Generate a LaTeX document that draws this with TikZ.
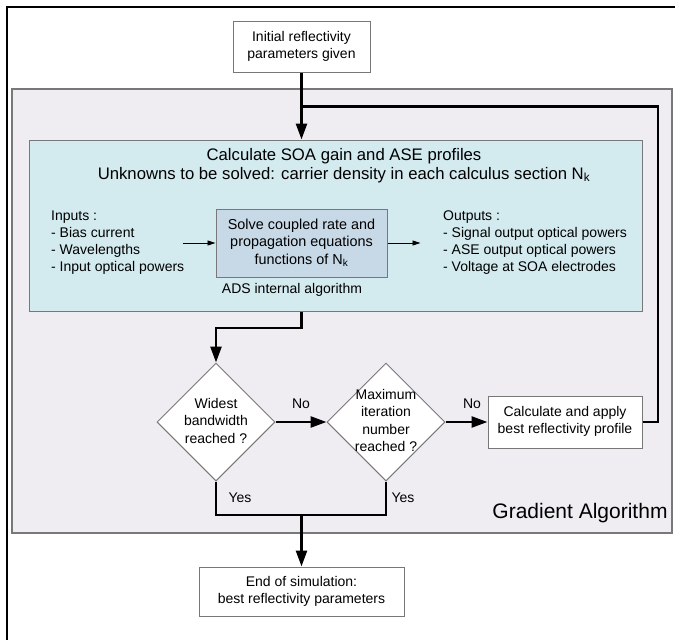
\documentclass[tikz,border=0pt]{standalone}
\usepackage{fontspec}
\setmainfont{Liberation Sans}
\usepackage{tikz}
\usetikzlibrary{arrows.meta,shapes,positioning}
\usepackage{xcolor}
\definecolor{dfgray}{RGB}{120,120,120}
\definecolor{dflavender}{RGB}{239,237,242}
\definecolor{dfcyan}{RGB}{211,234,239}
\definecolor{dfsteel}{RGB}{199,216,230}
\tikzstyle{process} = [rectangle, text centered, draw=dfgray, fill=white, line width=1pt, inner sep=0pt, font=\fontsize{14}{17}\selectfont]
\tikzstyle{decision} = [diamond, aspect=1, text centered, draw=dfgray, fill=white, line width=1pt, minimum width=118pt, minimum height=118pt, inner sep=-8pt, font=\fontsize{14}{17.5}\selectfont]
\tikzstyle{plain} = [inner sep=0pt, font=\fontsize{14}{17}\selectfont]
\tikzstyle{arrow} = [line width=2.6pt, ->, >={Triangle[length=16pt,width=11pt]}]
\tikzstyle{flow} = [line width=2.6pt]
\tikzstyle{thinarrow} = [line width=0.8pt, ->, >={Triangle[length=8pt,width=5pt]}]

\begin{document}
\begin{tikzpicture}[x=1pt, y=-1pt]
\useasboundingbox (0,0) rectangle (675,640);
% Frames
\draw[line width=2.5pt] (7,640) -- (7,7) -- (675,7);
\draw[draw=dfgray, fill=dflavender, line width=1.5pt] (12,89) rectangle (672,533);
\node (gradlabel) [plain, font=\fontsize{21}{25}\selectfont] at (580,513) {Gradient Algorithm};

% Steps
\node (init) [process, minimum width=137pt, minimum height=51pt] at (301.5,46.5) {
\begin{tabular}{c}
Initial reflectivity\\
parameters given
\end{tabular}
};

\node (soa) [process, fill=dfcyan, minimum width=613pt, minimum height=171pt] at (335.5,225.5) {};
\node (title) [plain, font=\fontsize{16.7}{19}\selectfont] at (344,156) {Calculate SOA gain and ASE profiles};
\node (unknowns) [plain, font=\fontsize{16.7}{19}\selectfont] at (344,175) {Unknowns to be solved: carrier density in each calculus section N\textsubscript{k}};

\node (inputs) [plain, anchor=west] at (51,242.5) {
\begin{tabular}{@{}l@{}}
Inputs :\\
- Bias current\\
- Wavelengths\\
- Input optical powers
\end{tabular}
};

\node (solve) [process, fill=dfsteel, minimum width=171pt, minimum height=68pt, font=\fontsize{14.4}{17.5}\selectfont] at (301.5,243) {
\begin{tabular}{c}
Solve coupled rate and\\
propagation equations\\
functions of N\textsubscript{k}
\end{tabular}
};

\node (outputs) [plain, anchor=west] at (443,242.5) {
\begin{tabular}{@{}l@{}}
Outputs :\\
- Signal output optical powers\\
- ASE output optical powers\\
- Voltage at SOA electrodes
\end{tabular}
};

\node (adslabel) [plain] at (292,290) {ADS internal algorithm};

\node (widest) [decision] at (216,422) {
\begin{tabular}{@{}c@{}}
Widest\\
bandwidth\\
reached ?
\end{tabular}
};

\node (maxiter) [decision] at (386,422) {
\begin{tabular}{@{}c@{}}
Maximum\\
iteration\\
number\\
reached ?
\end{tabular}
};

\node (apply) [process, minimum width=154pt, minimum height=52pt] at (565,422) {
\begin{tabular}{c}
Calculate and apply\\
best reflectivity profile
\end{tabular}
};

\node (finish) [process, minimum width=205pt, minimum height=49pt] at (301.5,591.5) {
\begin{tabular}{c}
End of simulation:\\
best reflectivity parameters
\end{tabular}
};

\node (no1) [plain] at (301,404) {No};
\node (no2) [plain] at (472,404) {No};
\node (yes1) [plain] at (240,498) {Yes};
\node (yes2) [plain] at (403,498) {Yes};

\coordinate (loop) at (658,106.5);
\coordinate (merge) at (301.5,515);

% Arrows
\draw[arrow] (init) -- (init |- soa.north);
\draw[flow] (apply.east) -| (loop) -- (init |- loop);
\draw[thinarrow] ([xshift=-33pt]solve.west) -- (solve.west);
\draw[thinarrow] (solve.east) -- ([xshift=33pt]solve.east);
\draw[arrow] (init |- soa.south) -- ++(0,16.5) -| (widest.north);
\draw[arrow] (widest) -- (maxiter);
\draw[arrow] (maxiter) -- (apply);
\draw[flow] (widest.south) |- (merge) -| (maxiter.south);
\draw[arrow] (merge) -- (finish);
\end{tikzpicture}
\end{document}
